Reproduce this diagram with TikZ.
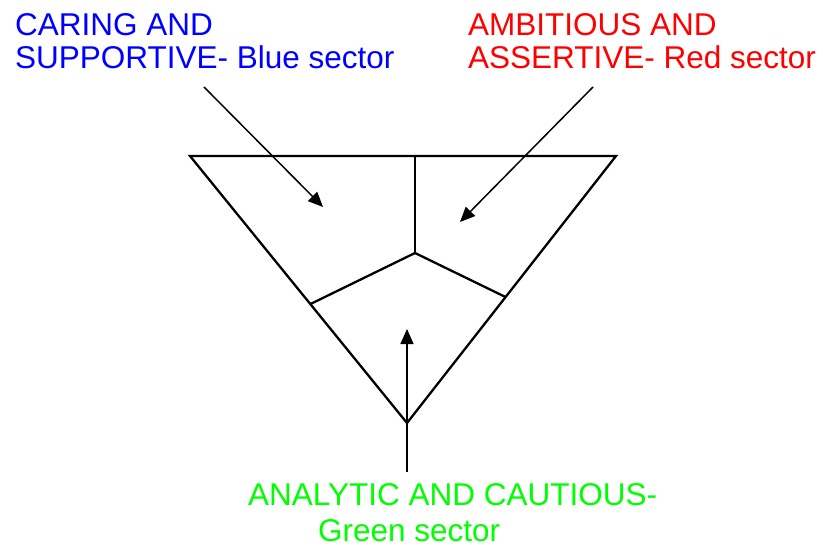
\documentclass[tikz,border=0pt]{standalone}
\usepackage{fontspec}
\setmainfont{Liberation Sans}
\usetikzlibrary{arrows.meta}
\begin{document}
\begin{tikzpicture}[x=1pt,y=-1pt,
  lbl/.style={inner sep=0pt, anchor=north west, align=left, font=\fontsize{31.5}{33.5}\selectfont},
  edge/.style={line width=2.3pt, line join=miter},
  pointer/.style={line width=1.5pt, -{Triangle[length=15pt,width=13pt]}}]
\useasboundingbox (0,0) rectangle (823,546);
% triangle corners and inner division points
\coordinate (tl) at (190,156);
\coordinate (tr) at (616,156);
\coordinate (bt) at (407,423);
\coordinate (tm) at (415,156);
\coordinate (ctr) at (415,253);
\coordinate (lp) at (310.5,304);
\coordinate (rp) at (505.5,297);
\draw[edge] (tl) -- (tr) -- (bt) -- cycle;
\draw[edge] (tm) -- (ctr);
\draw[edge] (lp) -- (ctr) -- (rp);
% labels
\node[lbl, text={rgb,255:red,0;green,0;blue,255}] (blue) at (15,13) {CARING AND\\SUPPORTIVE- Blue sector};
\node[lbl, text={rgb,255:red,255;green,0;blue,0}] (red) at (468,13) {AMBITIOUS AND\\ASSERTIVE- Red sector};
\node[lbl, text={rgb,255:red,0;green,255;blue,0}, font=\fontsize{31.5}{36}\selectfont] (green) at (248,483) {ANALYTIC AND CAUTIOUS-\\\hspace*{70pt}Green sector};
% arrows
\coordinate (bs) at (204,87);
\coordinate (btip) at (323,207);
\coordinate (rs) at (593,87);
\coordinate (rtip) at (460,222);
\coordinate (gs) at (407,472);
\coordinate (gtip) at (407,329);
\draw[pointer] (bs) -- (btip);
\draw[pointer] (rs) -- (rtip);
\draw[pointer] (gs) -- (gtip);
\end{tikzpicture}
\end{document}
